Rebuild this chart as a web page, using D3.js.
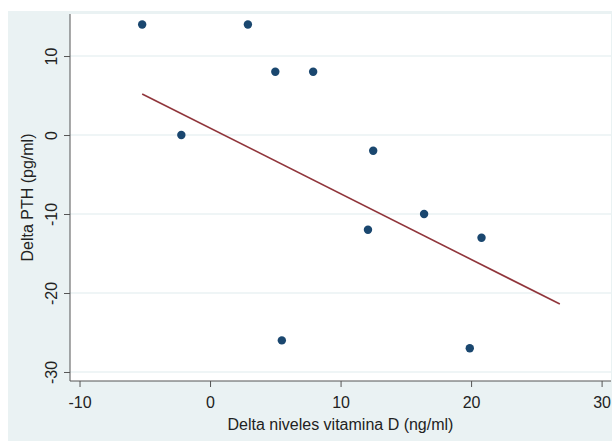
<!DOCTYPE html>
<html>
<head>
<meta charset="utf-8">
<script src="https://cdn.jsdelivr.net/npm/d3@7"></script>
<style>
  body { margin: 0; background: #fff; }
  text { font-family: "Liberation Sans", Arial, sans-serif; fill: #222; }
</style>
</head>
<body>
<div id="chart"></div>
<script>
// scatter points
var deltaVitD = [-5.2, 2.9, 5.0, 7.9, -2.2, 12.5, 16.4, 12.1, 20.8, 5.5, 19.9];
var deltaPTH  = [14, 14, 8, 8, 0, -2, -10, -12, -13, -26, -27];

// fitted line end points
var fitX = [-5.2, 26.8];
var fitY = [5.2, -21.4];

var xTicks = [-10, 0, 10, 20, 30];
var yTicks = [-30, -20, -10, 0, 10];

var W = 612, H = 441;
var plot = {left: 70, right: 611, top: 14, bottom: 381};

var svg = d3.select("#chart").append("svg")
    .attr("width", W)
    .attr("height", H);

// outer graph region
svg.append("rect")
    .attr("x", 8).attr("y", 11)
    .attr("width", W - 8).attr("height", H - 11)
    .attr("fill", "#eaf2f3");

svg.append("rect")
    .attr("x", plot.left).attr("y", plot.top)
    .attr("width", plot.right - plot.left).attr("height", plot.bottom - plot.top)
    .attr("fill", "#ffffff");

var x = d3.scaleLinear().domain([-10.73, 30.72]).range([plot.left, plot.right]);
var y = d3.scaleLinear().domain([-31.14, 15.32]).range([plot.bottom, plot.top]);

// plain hyphen minus, like the original
var fmt = function(d) { return String(d); };

// gridlines
svg.append("g")
    .selectAll("line")
    .data(yTicks)
  .enter().append("line")
    .attr("x1", plot.left).attr("x2", plot.right)
    .attr("y1", function(d) { return y(d); })
    .attr("y2", function(d) { return y(d); })
    .attr("stroke", "#eaf2f3")
    .attr("stroke-width", 1.5);

// x axis
var xAxis = d3.axisBottom(x).tickValues(xTicks).tickFormat(fmt).tickSize(6).tickPadding(10);
var gx = svg.append("g")
    .attr("transform", "translate(0," + plot.bottom + ")")
    .call(xAxis);
gx.select(".domain")
    .attr("d", "M" + plot.left + ",0H" + plot.right)
    .attr("stroke", "#555");
gx.selectAll(".tick line").attr("stroke", "#555");
gx.selectAll(".tick text").style("font-size", "16px").attr("fill", "#222");

// y axis, labels rotated Stata-style
var yAxis = d3.axisLeft(y).tickValues(yTicks).tickFormat(fmt).tickSize(6);
var gy = svg.append("g")
    .attr("transform", "translate(" + plot.left + ",0)")
    .call(yAxis);
gy.select(".domain")
    .attr("d", "M0," + plot.top + "V" + plot.bottom)
    .attr("stroke", "#555");
gy.selectAll(".tick line").attr("stroke", "#555");
gy.selectAll(".tick text")
    .style("font-size", "16px")
    .attr("fill", "#222")
    .attr("x", null).attr("dy", null)
    .attr("text-anchor", "middle")
    .attr("transform", "translate(-13,0) rotate(-90)")
    .attr("y", 0);

// axis titles
svg.append("text")
    .attr("x", (plot.left + plot.right) / 2)
    .attr("y", 430)
    .attr("text-anchor", "middle")
    .style("font-size", "16px")
    .text("Delta niveles vitamina D (ng/ml)");

svg.append("text")
    .attr("transform", "translate(33," + (plot.top + plot.bottom) / 2 + ") rotate(-90)")
    .attr("text-anchor", "middle")
    .style("font-size", "16px")
    .text("Delta PTH (pg/ml)");

// fitted line
var fit = fitX.map(function(d, i) { return [d, fitY[i]]; });
svg.append("path")
    .datum(fit)
    .attr("d", d3.line().x(function(d) { return x(d[0]); }).y(function(d) { return y(d[1]); }))
    .attr("fill", "none")
    .attr("stroke", "#90353b")
    .attr("stroke-width", 1.6);

// points
var pts = deltaVitD.map(function(d, i) { return {vitD: d, pth: deltaPTH[i]}; });
svg.selectAll(".dot")
    .data(pts)
  .enter().append("circle")
    .attr("class", "dot")
    .attr("r", 4.2)
    .attr("cx", function(d) { return x(d.vitD); })
    .attr("cy", function(d) { return y(d.pth); })
    .attr("fill", "#1a476f");
</script>
</body>
</html>
